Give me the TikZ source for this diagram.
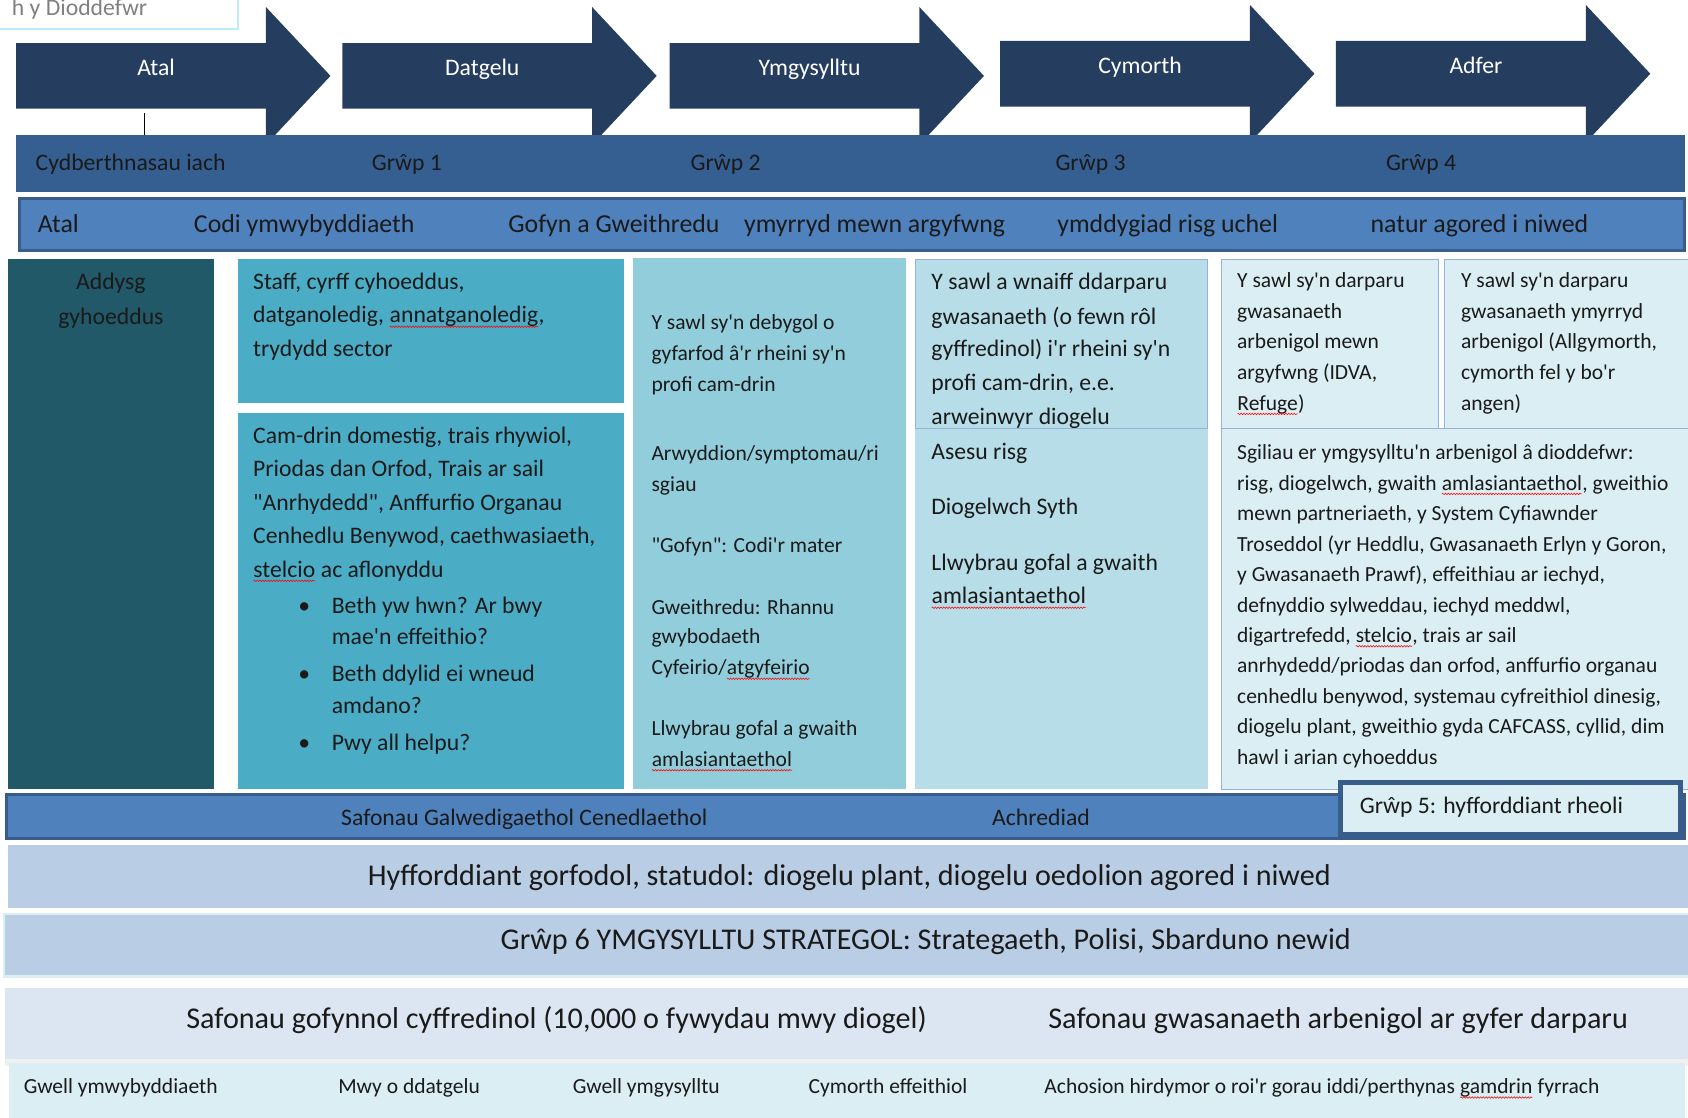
\documentclass[tikz,border=0pt]{standalone}
\usepackage{fontspec}
\setmainfont{Carlito}[Ligatures=TeXOff]
\usetikzlibrary{decorations.pathmorphing}
\definecolor{navy}{RGB}{37,62,96}
\definecolor{grpband}{RGB}{54,95,145}
\definecolor{midblue}{RGB}{79,129,189}
\definecolor{edgeblue}{RGB}{56,93,138}
\definecolor{tealdark}{RGB}{33,89,104}
\definecolor{tealmid}{RGB}{75,172,198}
\definecolor{teallight}{RGB}{146,205,220}
\definecolor{tealpale}{RGB}{183,221,232}
\definecolor{tealmist}{RGB}{218,238,243}
\definecolor{paleedge}{RGB}{149,179,215}
\definecolor{lavender}{RGB}{185,205,229}
\definecolor{lavpale}{RGB}{220,230,242}
\definecolor{txtc}{RGB}{26,26,26}
% red wavy line under a word, as a spell checker draws it
\newcommand\spell[1]{\tikz[baseline=(w.base)]{\node[anchor=base,inner sep=0pt,outer sep=0pt] (w) at (0,0) {#1};
  \draw[red, line width=0.5pt, decorate, decoration={snake,amplitude=0.7pt,segment length=2.6pt}]
    ([yshift=-3.5pt]w.base west) -- ([yshift=-3.5pt]w.base east);}}
\begin{document}
\begin{tikzpicture}[x=1pt,y=1pt,
  txt/.style={anchor=base west,text=txtc},
  ctxt/.style={anchor=base,text=txtc},
  f20/.style={font=\fontsize{20}{24}\selectfont},
  f22/.style={font=\fontsize{22}{26}\selectfont},
  f24/.style={font=\fontsize{24}{28}\selectfont},
  f28/.style={font=\fontsize{28}{32}\selectfont},
  panel/.style={draw=paleedge,line width=1pt,fill=tealmist},
  strip/.style={draw=edgeblue,fill=midblue,line width=2.5pt}]
\tikzstyle{every node}+=[inner sep=0pt]
\useasboundingbox (0,0) rectangle (1568,-1038.5);
% caption box, cut off at the top left
\draw [draw=cyan!25, line width=2.5pt, fill=white] (-10,10) rectangle (221,-27);
\node [anchor=base east, text=black!50, f22] (victim) at (137,-14) {h y Dioddefwr};
% stage arrows
\foreach \x/\y/\lab [count=\i] in {15/40/Atal, 318/40/Datgelu, 622/40/Ymgysylltu, 929/38/Cymorth, 1241/38/Adfer} {
  \fill [navy] (\x,-\y) -- (\x+232,-\y) -- (\x+232,-\y+33.5) -- (\x+292,-\y-30.5)
    -- (\x+232,-\y-94.5) -- (\x+232,-\y-61) -- (\x,-\y-61) -- cycle;
  \node [ctxt, text=white, f22] (stage\i) at (\x+130,-\y-30) {\lab};
}
\coordinate (tickTop) at (134,-105);
\coordinate (tickEnd) at (134,-130);
\draw [black, line width=0.8pt] (tickTop) -- (tickEnd);
% group band
\fill [grpband] (15,-125) rectangle (1565,-178);
\node [txt, f22] (healthy) at (33,-158) {Cydberthnasau iach};
\foreach \x [count=\i] in {378,674,1013,1320}
  \node [ctxt, f22] (grp\i) at (\x,-158) {Grŵp \i};
% theme band
\draw [strip] (18,-184.5) rectangle (1565,-233);
\foreach \x/\t [count=\i] in {35/Atal, 180/Codi ymwybyddiaeth, 472/Gofyn a Gweithredu,
    691/ymyrryd mewn argyfwng, 982/ymddygiad risg uchel, 1273/natur agored i niwed}
  \node [txt, f24] (theme\i) at (\x,-216) {\t};
% columns
\fill [tealdark] (7,-241) rectangle (199,-733);
\fill [tealmid] (221,-241) rectangle (580,-374);
\fill [tealmid] (221,-384) rectangle (580,-733);
\fill [teallight] (588,-240) rectangle (842,-733);
\fill [tealpale] (850,-241) rectangle (1122,-733);
\draw [paleedge, line width=1pt] (850,-241) rectangle (1122,-398);
\draw [panel] (1135,-241) rectangle (1336,-398);
\draw [panel] (1342,-241) rectangle (1575,-398);
\draw [panel] (1135,-398) rectangle (1575,-733);
% column A
\node [ctxt, f22] (edu1) at (103,-269) {Addysg};
\node [ctxt, f22] (edu2) at (103,-301) {gyhoeddus};
% column B
\foreach \t [count=\i] in {{Staff, cyrff cyhoeddus,},{datganoledig, \spell{annatganoledig},},{trydydd sector}}
  \node [txt, f22] (staff\i) at (235,-238-31*\i) {\t};
\foreach \t [count=\i] in {{Cam-drin domestig, trais rhywiol,},{Priodas dan Orfod, Trais ar sail},
    {"Anrhydedd", Anffurfio Organau},{Cenhedlu Benywod, caethwasiaeth,},{\spell{stelcio} ac aflonyddu}}
  \node [txt, f22] (abuse\i) at (235,-381-31*\i) {\t};
\foreach \y [count=\i] in {570,633,697}
  \node [txt, f22] (dot\i) at (277,-\y) {\textbullet};
\foreach \y/\t [count=\i] in {570/{Beth yw hwn? Ar bwy},599/{mae'n effeithio?},633/{Beth ddylid ei wneud},
    663/{amdano?},697/{Pwy all helpu?}}
  \node [txt, f22] (ask\i) at (308,-\y) {\t};
% column C
\foreach \y/\t [count=\i] in {306/{Y sawl sy'n debygol o},335/{gyfarfod â'r rheini sy'n},364/{profi cam-drin},
    428/{Arwyddion/symptomau/ri},457/{sgiau},513/{"Gofyn": Codi'r mater},571/{Gweithredu: Rhannu},
    598/{gwybodaeth},627/{Cyfeirio/\spell{atgyfeirio}},683/{Llwybrau gofal a gwaith},712/{\spell{amlasiantaethol}}}
  \node [txt, f20] (meet\i) at (605,-\y) {\t};
% column D
\foreach \y/\t [count=\i] in {269/{Y sawl a wnaiff ddarparu},301/{gwasanaeth (o fewn rôl},
    331/{gyffredinol) i'r rheini sy'n},363/{profi cam-drin, e.e.},394/{arweinwyr diogelu},
    427/{Asesu risg},478/{Diogelwch Syth},530/{Llwybrau gofal a gwaith},561/{\spell{amlasiantaethol}}}
  \node [txt, f22] (lead\i) at (865,-\y) {\t};
% column E
\foreach \t [count=\i] in {{Y sawl sy'n darparu},{gwasanaeth},{arbenigol mewn},{argyfwng (IDVA,},{\spell{Refuge})}}
  \node [txt, f20] (crisis\i) at (1149,-238.5-28.5*\i) {\t};
\foreach \t [count=\i] in {{Y sawl sy'n darparu},{gwasanaeth ymyrryd},{arbenigol (Allgymorth,},{cymorth fel y bo'r},{angen)}}
  \node [txt, f20] (outreach\i) at (1357,-238.5-28.5*\i) {\t};
\foreach \t [count=\i] in {{Sgiliau er ymgysylltu'n arbenigol â dioddefwr:},
    {risg, diogelwch, gwaith \spell{amlasiantaethol}, gweithio},
    {mewn partneriaeth, y System Cyfiawnder},
    {Troseddol (yr Heddlu, Gwasanaeth Erlyn y Goron,},
    {y Gwasanaeth Prawf), effeithiau ar iechyd,},
    {defnyddio sylweddau, iechyd meddwl,},
    {digartrefedd, \spell{stelcio}, trais ar sail},
    {anrhydedd/priodas dan orfod, anffurfio organau},
    {cenhedlu benywod, systemau cyfreithiol dinesig,},
    {diogelu plant, gweithio gyda CAFCASS, cyllid, dim},
    {hawl i arian cyhoeddus}}
  \node [txt, f20] (skill\i) at (1149,-398.7-28.3*\i) {\t};
% standards band
\draw [strip] (6,-738) rectangle (1565,-779);
\node [ctxt, f22] (nos) at (487,-767) {Safonau Galwedigaethol Cenedlaethol};
\node [ctxt, f22] (accred) at (967,-767) {Achrediad};
\draw [draw=edgeblue, fill=tealmist, line width=4.5pt] (1245,-727) rectangle (1561,-775);
\node [txt, f22] (grp5) at (1263,-756) {Grŵp 5: hyfforddiant rheoli};
% training bands
\fill [lavender] (7,-785) rectangle (1568,-843);
\node [ctxt, f28] (mandatory) at (789,-823) {Hyfforddiant gorfodol, statudol: diogelu plant, diogelu oedolion agored i niwed};
\draw [draw=tealmist, fill=lavender, line width=2pt] (4,-849) rectangle (1570,-907);
\node [ctxt, f28] (grp6) at (860,-882) {Grŵp 6 YMGYSYLLTU STRATEGOL: Strategaeth, Polisi, Sbarduno newid};
% outcome bands
\fill [lavpale] (5,-918) rectangle (1568,-984);
\node [ctxt, f28] (general) at (517,-955) {Safonau gofynnol cyffredinol (10,000 o fywydau mwy diogel)};
\node [ctxt, f28] (special) at (1243,-955) {Safonau gwasanaeth arbenigol ar gyfer darparu};
\fill [black!6] (5,-984) rectangle (1568,-990);
\fill [tealmist] (8,-987) rectangle (1565,-1040);
\foreach \x/\t [count=\i] in {22/Gwell ymwybyddiaeth, 314/Mwy o ddatgelu, 532/Gwell ymgysylltu, 751/Cymorth effeithiol,
    970/{Achosion hirdymor o roi'r gorau iddi/perthynas \spell{gamdrin} fyrrach}}
  \node [txt, f20] (gain\i) at (\x,-1016) {\t};
\end{tikzpicture}
\end{document}
